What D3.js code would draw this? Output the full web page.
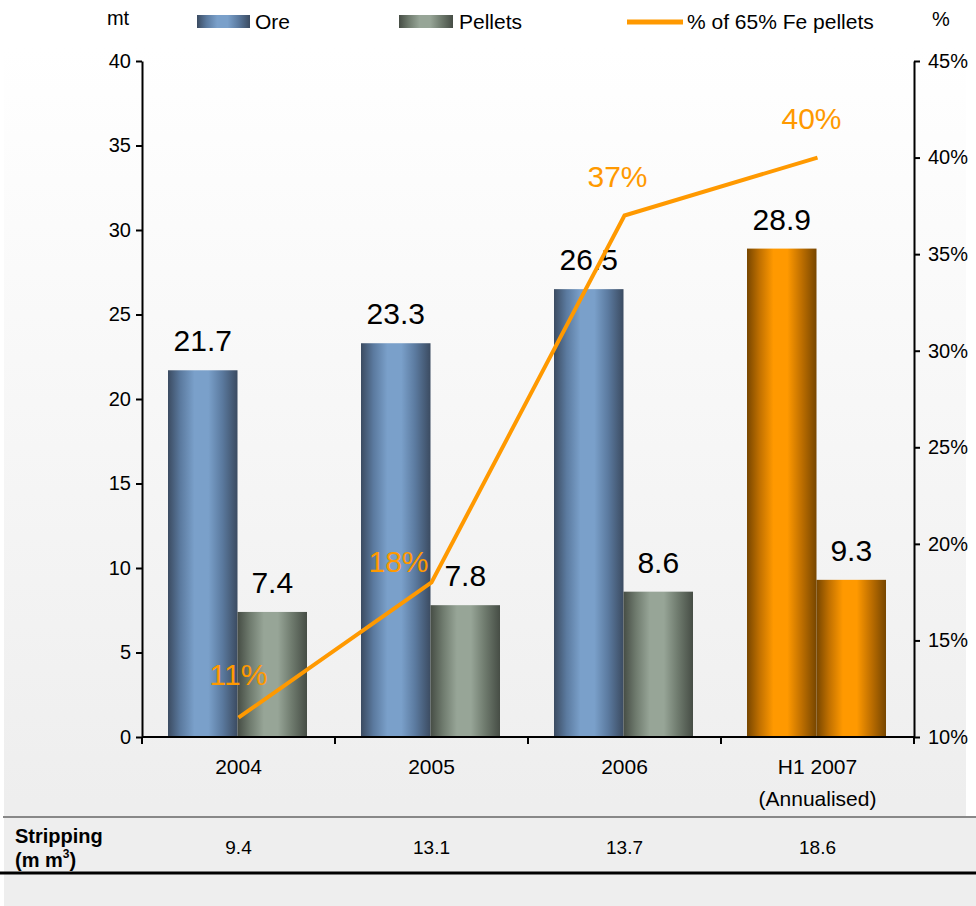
<!DOCTYPE html>
<html>
<head>
<meta charset="utf-8">
<script src="https://cdn.jsdelivr.net/npm/d3@7"></script>
<style>
  body { margin: 0; background: #ffffff; }
  svg { display: block; font-family: "Liberation Sans", Arial, sans-serif; }
  .axis path, .axis line { stroke: #000; stroke-width: 2; }
  .axis text { font-size: 20px; fill: #000; }
</style>
</head>
<body>
<div id="chart"></div>
<script>
// chart data
var categories = ["2004", "2005", "2006", "H1 2007"];
var categorySub = ["", "", "", "(Annualised)"];
var ore = [21.7, 23.3, 26.5, 28.9];
var pellets = [7.4, 7.8, 8.6, 9.3];
var fePct = [11, 18, 37, 40];
var stripping = ["9.4", "13.1", "13.7", "18.6"];
var leftTicks = [0, 5, 10, 15, 20, 25, 30, 35, 40];
var rightTicks = [10, 15, 20, 25, 30, 35, 40, 45];

// label nudges for the % labels (dx, dy)
var pctNudge = [[0, -33], [-3, -10], [-7, -29], [-6, -29]];

var W = 976, H = 906;
var margin = { top: 61, right: 62, bottom: 169, left: 142 };
var width = W - margin.left - margin.right;
var height = H - margin.top - margin.bottom;

var svg = d3.select("#chart").append("svg")
    .attr("width", W)
    .attr("height", H);

var defs = svg.append("defs");

// background gradient panel
var bg = defs.append("linearGradient").attr("id", "bg")
    .attr("x1", 0).attr("y1", 0).attr("x2", 0).attr("y2", 1);
bg.append("stop").attr("offset", "0%").attr("stop-color", "#ffffff");
bg.append("stop").attr("offset", "88%").attr("stop-color", "#eeeeee");
bg.append("stop").attr("offset", "100%").attr("stop-color", "#eeeeee");

function barGrad(id, dark, mid, light) {
    var g = defs.append("linearGradient").attr("id", id)
        .attr("x1", 0).attr("y1", 0).attr("x2", 1).attr("y2", 0);
    g.append("stop").attr("offset", "0%").attr("stop-color", dark);
    g.append("stop").attr("offset", "18%").attr("stop-color", mid);
    g.append("stop").attr("offset", "38%").attr("stop-color", light);
    g.append("stop").attr("offset", "58%").attr("stop-color", light);
    g.append("stop").attr("offset", "78%").attr("stop-color", mid);
    g.append("stop").attr("offset", "100%").attr("stop-color", dark);
}
barGrad("oreGrad", "#3b4b61", "#5b7a9f", "#7aa0ca");
barGrad("pelGrad", "#464d45", "#6f7b6e", "#97a597");
barGrad("orgGrad", "#774600", "#c07000", "#ff9900");

svg.append("rect")
    .attr("x", 4).attr("y", 48)
    .attr("width", 962).attr("height", H - 48)
    .attr("fill", "url(#bg)");

var g = svg.append("g")
    .attr("transform", "translate(" + margin.left + "," + margin.top + ")");

// scales
var x = d3.scaleBand().domain(categories).range([0, width]);
var x1 = d3.scaleBand().domain(["ore", "pellets"]).range([26, x.bandwidth() - 28]);
var y = d3.scaleLinear().domain([0, 40]).range([height, 0]);
var y2 = d3.scaleLinear().domain([10, 45]).range([height, 0]);

var rows = categories.map(function(c, i) {
    return { cat: c, i: i, ore: ore[i], pellets: pellets[i], pct: fePct[i] };
});

// bars
var series = ["ore", "pellets"];
series.forEach(function(s) {
    g.selectAll(".bar-" + s)
        .data(rows)
        .enter().append("rect")
        .attr("class", "bar-" + s)
        .attr("x", function(d) { return x(d.cat) + x1(s); })
        .attr("y", function(d) { return y(d[s]); })
        .attr("width", x1.bandwidth())
        .attr("height", function(d) { return height - y(d[s]); })
        .attr("fill", function(d) {
            if (d.i === 3) return "url(#orgGrad)";
            return s === "ore" ? "url(#oreGrad)" : "url(#pelGrad)";
        });

    // value labels
    g.selectAll(".lbl-" + s)
        .data(rows)
        .enter().append("text")
        .attr("x", function(d) { return x(d.cat) + x1(s) + x1.bandwidth() / 2; })
        .attr("y", function(d) { return y(d[s]) - 19; })
        .attr("text-anchor", "middle")
        .style("font-size", "30px")
        .attr("fill", "#000")
        .text(function(d) { return d[s].toFixed(1); });
});

// axes
g.append("g").attr("class", "axis")
    .call(d3.axisLeft(y).tickValues(leftTicks).tickSize(6).tickPadding(5).tickSizeOuter(0));

g.append("g").attr("class", "axis")
    .attr("transform", "translate(" + width + ",0)")
    .call(d3.axisRight(y2).tickValues(rightTicks).tickSize(6).tickPadding(8).tickSizeOuter(0)
        .tickFormat(function(d) { return d + "%"; }));

// x baseline with boundary ticks
var xb = g.append("g").attr("class", "axis");
xb.append("line")
    .attr("x1", 0).attr("x2", width)
    .attr("y1", height).attr("y2", height);
var bounds = categories.map(function(c) { return x(c); }).concat([width]);
xb.selectAll(".xt").data(bounds).enter().append("line")
    .attr("x1", function(d) { return d; }).attr("x2", function(d) { return d; })
    .attr("y1", height).attr("y2", height + 7);

var cl = g.selectAll(".cat").data(rows).enter().append("text")
    .attr("x", function(d) { return x(d.cat) + x.bandwidth() / 2; })
    .attr("y", height + 37)
    .attr("text-anchor", "middle")
    .style("font-size", "21px");
cl.append("tspan").text(function(d) { return d.cat; });
cl.append("tspan")
    .attr("x", function(d) { return x(d.cat) + x.bandwidth() / 2; })
    .attr("dy", 32)
    .text(function(d) { return categorySub[d.i]; });

// % line
var line = d3.line()
    .x(function(d) { return x(d.cat) + x.bandwidth() / 2; })
    .y(function(d) { return y2(d.pct); });

g.append("path")
    .datum(rows)
    .attr("d", line)
    .attr("fill", "none")
    .attr("stroke", "#ff9900")
    .attr("stroke-width", 4);

g.selectAll(".pct").data(rows).enter().append("text")
    .attr("x", function(d) { return x(d.cat) + x.bandwidth() / 2 + pctNudge[d.i][0]; })
    .attr("y", function(d) { return y2(d.pct) + pctNudge[d.i][1]; })
    .attr("text-anchor", function(d) { return d.i === 1 ? "end" : "middle"; })
    .style("font-size", "30px")
    .attr("fill", "#ff9900")
    .text(function(d) { return d.pct + "%"; });

// legend
var leg = svg.append("g").style("font-size", "21px");
leg.append("text").attr("x", 118).attr("y", 25).attr("text-anchor", "middle").style("font-size", "20px").text("mt");
leg.append("text").attr("x", 941).attr("y", 26).attr("text-anchor", "middle").style("font-size", "20px").text("%");
leg.append("rect").attr("x", 197).attr("y", 15).attr("width", 53).attr("height", 13).attr("fill", "url(#oreGrad)");
leg.append("text").attr("x", 255).attr("y", 29).text("Ore");
leg.append("rect").attr("x", 399).attr("y", 15).attr("width", 54).attr("height", 13).attr("fill", "url(#pelGrad)");
leg.append("text").attr("x", 459).attr("y", 29).text("Pellets");
leg.append("line").attr("x1", 627).attr("x2", 683).attr("y1", 22).attr("y2", 22)
    .attr("stroke", "#ff9900").attr("stroke-width", 5);
leg.append("text").attr("x", 687).attr("y", 29).text("% of 65% Fe pellets");

// stripping table
svg.append("rect").attr("x", 4).attr("y", 817).attr("width", 972).attr("height", 89).attr("fill", "#eeeeee");
svg.append("line").attr("x1", 3).attr("x2", 976).attr("y1", 817).attr("y2", 817)
    .attr("stroke", "#888888").attr("stroke-width", 2);
svg.append("line").attr("x1", 0).attr("x2", 976).attr("y1", 873).attr("y2", 873)
    .attr("stroke", "#000").attr("stroke-width", 3);

var st = svg.append("text").attr("x", 15).attr("y", 843)
    .style("font-size", "20px").style("font-weight", "bold");
st.append("tspan").text("Stripping");
st.append("tspan").attr("x", 15).attr("dy", 24).text("(m m");
st.append("tspan").attr("dy", -9).style("font-size", "12px").text("3");
st.append("tspan").attr("dy", 9).text(")");

svg.selectAll(".strip").data(rows).enter().append("text")
    .attr("x", function(d) { return margin.left + x(d.cat) + x.bandwidth() / 2; })
    .attr("y", 854)
    .attr("text-anchor", "middle")
    .style("font-size", "19px")
    .text(function(d) { return stripping[d.i]; });
</script>
</body>
</html>
